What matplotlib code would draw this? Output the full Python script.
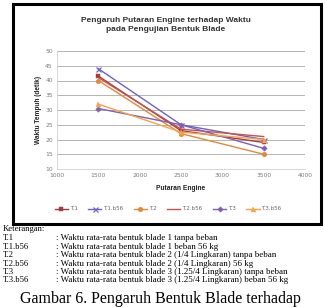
import matplotlib
matplotlib.use("Agg")
import matplotlib.pyplot as plt
from matplotlib.patches import Rectangle

# ---- data ----
rpm = [1500, 2500, 3500]
series_names = ["T.1", "T.1.b56", "T.2", "T.2.b56", "T.3", "T.3.b56"]
t1 = [41.5, 23.0, 19.0]
t1_b56 = [44.0, 25.0, 20.0]
t2 = [40.0, 22.0, 15.0]
t2_b56 = [41.0, 23.5, 21.0]
t3 = [30.5, 25.0, 17.0]
t3_b56 = [32.0, 22.5, 20.0]
y_ticks = [10, 15, 20, 25, 30, 35, 40, 45, 50]
x_ticks = [1000, 1500, 2000, 2500, 3000, 3500, 4000]

title_text = "Pengaruh Putaran Engine terhadap Waktu\npada Pengujian Bentuk Blade"
ylabel_text = "Waktu Tempuh (detik)"
xlabel_text = "Putaran Engine"

notes_head = "Keterangan:"
note_codes = ["T.1", "T.1.b56", "T.2", "T.2.b56", "T.3", "T.3.b56"]
note_texts = [
    ": Waktu rata-rata bentuk blade 1 tanpa beban",
    ": Waktu rata-rata bentuk blade 1 beban 56 kg",
    ": Waktu rata-rata bentuk blade 2 (1/4 Lingkaran) tanpa beban",
    ": Waktu rata-rata bentuk blade 2 (1/4 Lingkaran) 56 kg",
    ": Waktu rata-rata bentuk blade 3 (1.25/4 Lingkaran) tanpa beban",
    ": Waktu rata-rata bentuk blade 3 (1.25/4 Lingkaran) beban 56 kg",
]
caption = "Gambar 6. Pengaruh Bentuk Blade terhadap"

# ---- styles ----
series = [t1, t1_b56, t2, t2_b56, t3, t3_b56]
colors = ["#A33A3C", "#6B62C4", "#E0893A", "#C9504C", "#7F5FB3", "#F7A248"]
markers = ["s", "x", "o", None, "D", "^"]
msizes = [3.4, 3.6, 3.4, 0, 2.8, 3.6]

W, H = 325, 307
fig = plt.figure(figsize=(W / 100, H / 100), dpi=100)
fig.patch.set_facecolor("white")

def fx(px):
    return px / W

def fy(py):
    return 1 - py / H

# black border box
fig.patches.append(Rectangle((fx(13), fy(224)), fx(321) - fx(13), fy(4) - fy(224),
                             transform=fig.transFigure, fill=False,
                             edgecolor="black", linewidth=2.2, zorder=10))

ax = fig.add_axes([fx(57), fy(169), fx(305) - fx(57), fy(51) - fy(169)])
for name, vals, c, m, ms in zip(series_names, series, colors, markers, msizes):
    ax.plot(rpm, vals, color=c, marker=m, markersize=ms, linewidth=1.0,
            markeredgewidth=0.9 if m == "x" else 0.3, label=name)

ax.set_xlim(1000, 4000)
ax.set_ylim(10, 50)
ax.set_xticks(x_ticks)
ax.set_yticks(y_ticks)
ax.set_xticklabels([str(v) for v in x_ticks])
ax.set_yticklabels([str(v) for v in y_ticks])
ax.tick_params(axis="both", labelsize=4.3, colors="#7a7a7a", length=0, pad=3)
ax.grid(axis="y", color="#a8a8a8", linewidth=0.6)
ax.set_axisbelow(True)
for s in ["top", "right"]:
    ax.spines[s].set_visible(False)
ax.spines["left"].set_color("#d0d0d0")
ax.spines["bottom"].set_color("#d0d0d0")
ax.spines["left"].set_linewidth(0.6)
ax.spines["bottom"].set_linewidth(0.6)

fig.text(fx(38), fy(110), ylabel_text, rotation=90, ha="center", va="center",
         fontsize=4.7, fontweight="bold", family="Liberation Sans", color="#222222")
fig.text(fx(181), fy(189), xlabel_text, ha="center", va="center",
         fontsize=4.8, fontweight="bold", family="Liberation Sans", color="#222222")
fig.text(fx(166), fy(25), title_text, ha="center", va="center", linespacing=1.5,
         fontsize=6.0, fontweight="bold", family="Liberation Sans", color="#333333")

handles, labels = ax.get_legend_handles_labels()
fig.legend(handles, labels, loc="center", bbox_to_anchor=(fx(168), fy(209)),
           ncol=6, fontsize=4.0, frameon=False, handlelength=2.4,
           handletextpad=0.3, columnspacing=1.9, labelcolor="#666666")

# notes
serif = "Liberation Serif"
fig.text(fx(3), fy(229), notes_head, ha="left", va="center", fontsize=6.2, family=serif)
for i, (code, txt) in enumerate(zip(note_codes, note_texts)):
    y = 238.5 + i * 8.4
    fig.text(fx(3), fy(y), code, ha="left", va="center", fontsize=6.2, family=serif)
    fig.text(fx(56), fy(y), txt, ha="left", va="center", fontsize=6.5, family=serif)

fig.text(fx(160), fy(291), caption, ha="center", va="top", fontsize=11.5, family=serif)

fig.savefig("out.png", dpi=100)
